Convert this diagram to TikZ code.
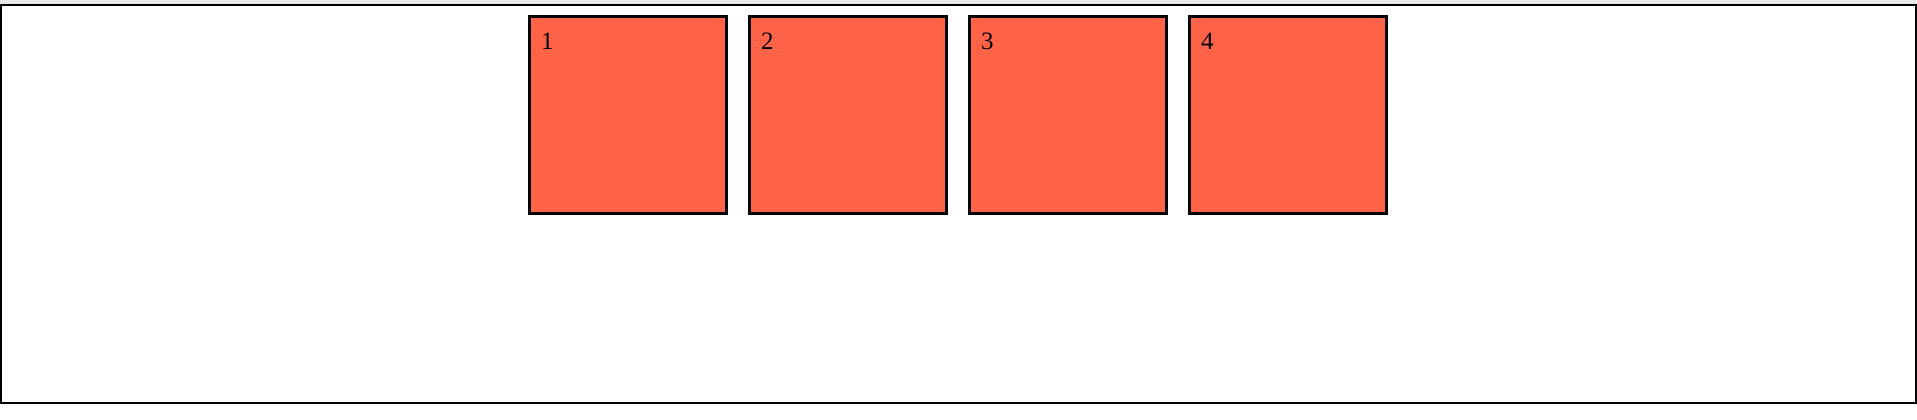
\documentclass[tikz,border=0pt]{standalone}
\usepackage{fontspec}
\setmainfont{Liberation Serif}
\definecolor{tomato}{RGB}{255,99,71}
\definecolor{topgray}{RGB}{232,232,232}
\tikzset{
  panel/.style={draw=black, line width=3pt, fill=tomato, minimum width=197pt, minimum height=196.5pt, inner sep=0pt, outer sep=0pt, anchor=north west},
  panellabel/.style={inner sep=0pt, anchor=base west, font=\fontsize{25pt}{25pt}\selectfont},
  frame/.style={draw=black, line width=2.6pt}
}
\begin{document}
\begin{tikzpicture}[x=1pt,y=-1pt]
\useasboundingbox (0,0) rectangle (1917,420);
\fill[white] (0,0) rectangle (1917,420);
\fill[topgray] (0,0) rectangle (1917,4);
\draw[frame] (1,5.2) rectangle (1915.8,403);
\foreach \i/\x in {1/529.5,2/749.5,3/969.5,4/1189.5}{
  \node[panel] (p\i) at (\x,17) {};
  \node[panellabel] (l\i) at ([xshift=11.5pt,yshift=-32.3pt]p\i.north west) {\i};
}
\end{tikzpicture}
\end{document}
